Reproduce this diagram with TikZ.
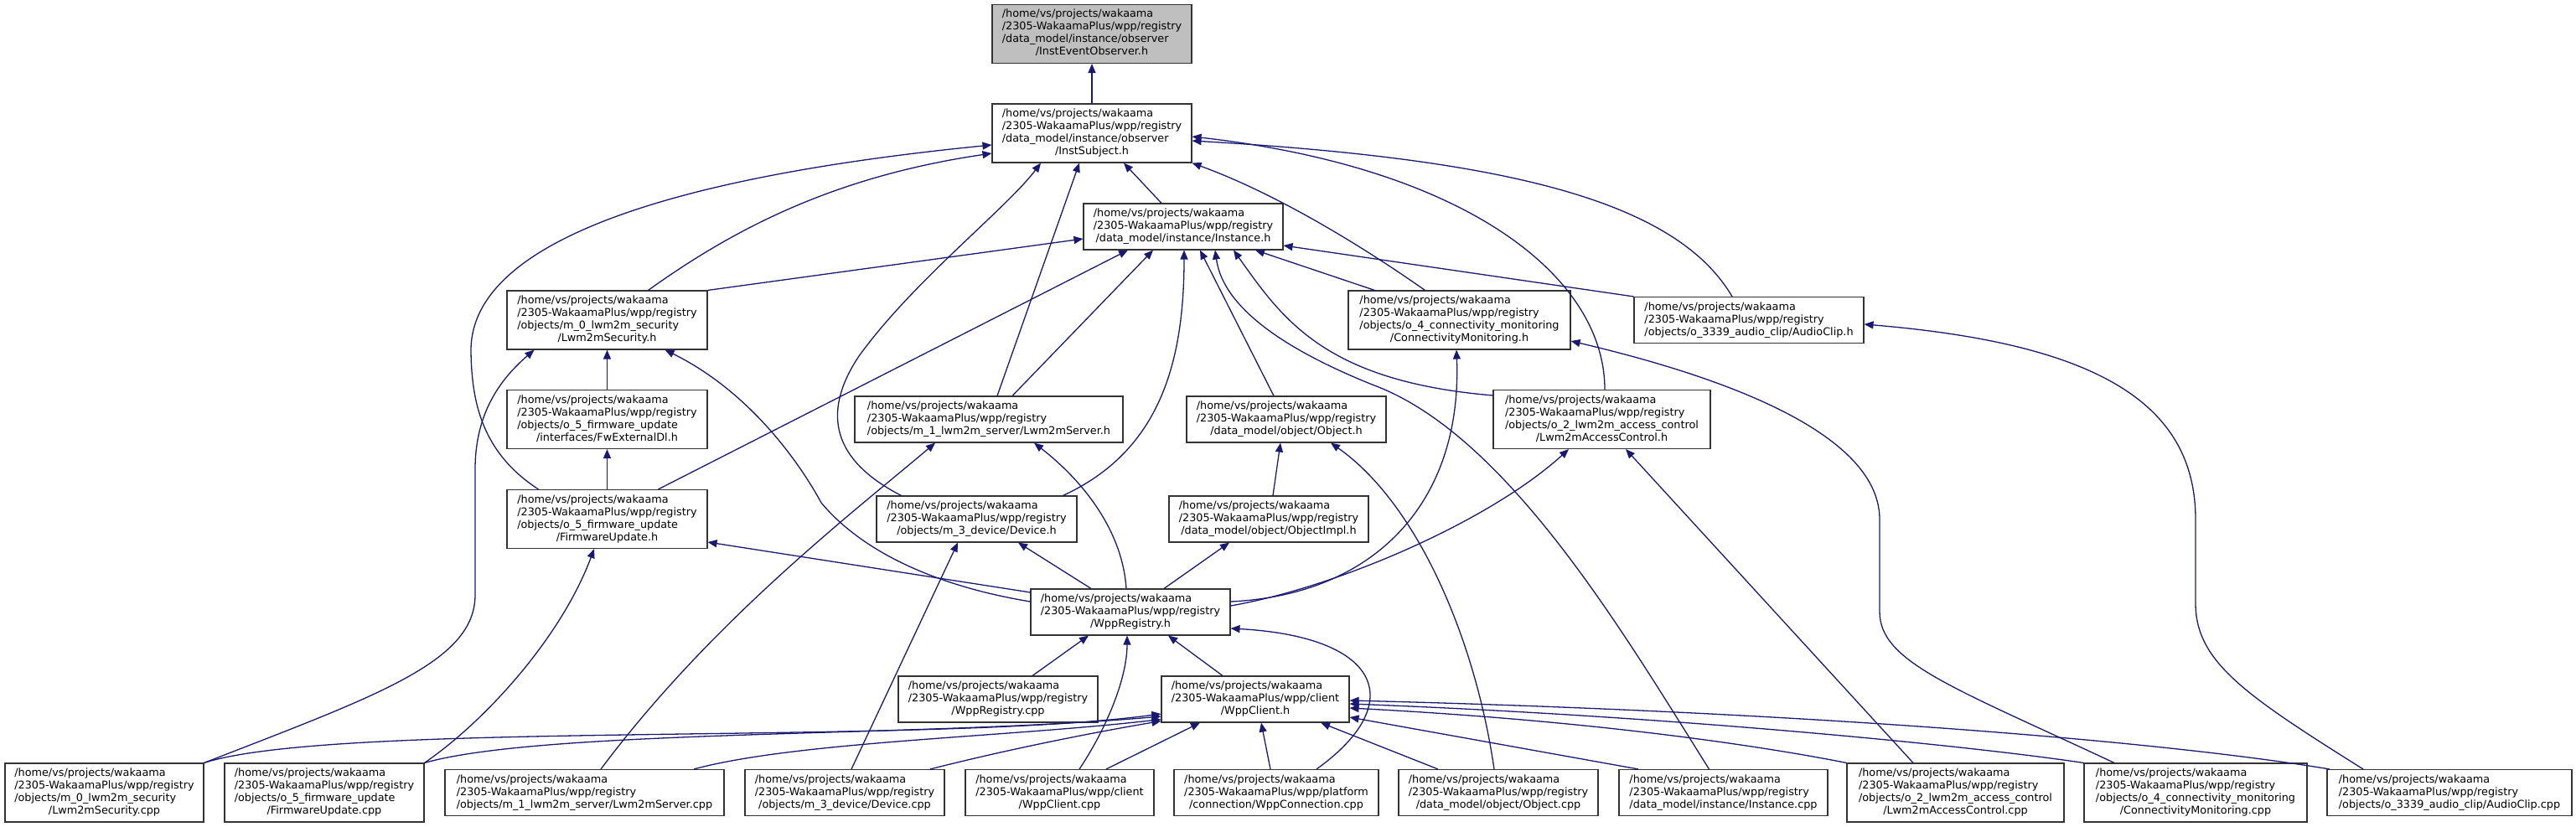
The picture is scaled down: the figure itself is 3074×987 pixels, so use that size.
\documentclass[tikz,border=0pt]{standalone}
\usepackage{fontspec}
\setmainfont{DejaVu Sans}
\usepackage{tikz}
\usetikzlibrary{arrows.meta}
\definecolor{edgeblue}{HTML}{191970}
\newcommand{\fpath}[2]{\begin{tabular}{@{}l@{}}#1\\\multicolumn{1}{@{}c@{}}{#2}\end{tabular}}

\begin{document}
\begin{tikzpicture}[x=1pt, y=-1pt,
  file/.style={draw=black!80, line width=1.1pt, fill=white, rectangle, inner xsep=6pt, inner ysep=5pt,
    minimum width=#1, font=\fontsize{12.8}{15}\selectfont},
  dep/.style={draw=edgeblue, line width=1.3pt, -{Triangle[length=11pt,width=9pt]}}]
\useasboundingbox (0,0) rectangle (3074,987);

% 層0
\node[file=238pt, fill=gray!50] (ieo) at (1303,40.5) {\fpath{/home/vs/projects/wakaama\\/2305-WakaamaPlus/wpp/registry\\/data\_model/instance/observer}{/InstEventObserver.h}};

% 層1
\node[file=238pt] (isub) at (1303,159) {\fpath{/home/vs/projects/wakaama\\/2305-WakaamaPlus/wpp/registry\\/data\_model/instance/observer}{/InstSubject.h}};

% 層2
\node[file=238pt] (inst) at (1412,270.5) {\fpath{/home/vs/projects/wakaama\\/2305-WakaamaPlus/wpp/registry}{/data\_model/instance/Instance.h}};

% 層3
\node[file=239pt] (sech) at (724.5,382) {\fpath{/home/vs/projects/wakaama\\/2305-WakaamaPlus/wpp/registry\\/objects/m\_0\_lwm2m\_security}{/Lwm2mSecurity.h}};
\node[file=265pt] (cmh) at (1741.5,382) {\fpath{/home/vs/projects/wakaama\\/2305-WakaamaPlus/wpp/registry\\/objects/o\_4\_connectivity\_monitoring}{/ConnectivityMonitoring.h}};
\node[file=274pt] (ach) at (2087,382) {\fpath{/home/vs/projects/wakaama\\/2305-WakaamaPlus/wpp/registry}{/objects/o\_3339\_audio\_clip/AudioClip.h}};

% 層4
\node[file=239pt] (fwdl) at (724.5,500.5) {\fpath{/home/vs/projects/wakaama\\/2305-WakaamaPlus/wpp/registry\\/objects/o\_5\_firmware\_update}{/interfaces/FwExternalDl.h}};
\node[file=320pt] (srvh) at (1180,500.5) {\fpath{/home/vs/projects/wakaama\\/2305-WakaamaPlus/wpp/registry}{/objects/m\_1\_lwm2m\_server/Lwm2mServer.h}};
\node[file=238pt] (objh) at (1535,500.5) {\fpath{/home/vs/projects/wakaama\\/2305-WakaamaPlus/wpp/registry}{/data\_model/object/Object.h}};
\node[file=259pt] (acch) at (1911.5,500.5) {\fpath{/home/vs/projects/wakaama\\/2305-WakaamaPlus/wpp/registry\\/objects/o\_2\_lwm2m\_access\_control}{/Lwm2mAccessControl.h}};

% 層5
\node[file=239pt] (fwh) at (724.5,619.5) {\fpath{/home/vs/projects/wakaama\\/2305-WakaamaPlus/wpp/registry\\/objects/o\_5\_firmware\_update}{/FirmwareUpdate.h}};
\node[file=239pt] (devh) at (1165.5,619.5) {\fpath{/home/vs/projects/wakaama\\/2305-WakaamaPlus/wpp/registry}{/objects/m\_3\_device/Device.h}};
\node[file=238pt] (oih) at (1514,619.5) {\fpath{/home/vs/projects/wakaama\\/2305-WakaamaPlus/wpp/registry}{/data\_model/object/ObjectImpl.h}};

% 層6
\node[file=238pt] (regh) at (1349,730.5) {\fpath{/home/vs/projects/wakaama\\/2305-WakaamaPlus/wpp/registry}{/WppRegistry.h}};

% 層7
\node[file=238pt] (regcpp) at (1191,834.5) {\fpath{/home/vs/projects/wakaama\\/2305-WakaamaPlus/wpp/registry}{/WppRegistry.cpp}};
\node[file=224pt] (clih) at (1498,834.5) {\fpath{/home/vs/projects/wakaama\\/2305-WakaamaPlus/wpp/client}{/WppClient.h}};

% 層8
\node[file=237pt] (seccpp) at (124.5,946) {\fpath{/home/vs/projects/wakaama\\/2305-WakaamaPlus/wpp/registry\\/objects/m\_0\_lwm2m\_security}{/Lwm2mSecurity.cpp}};
\node[file=238pt] (fwcpp) at (387,946) {\fpath{/home/vs/projects/wakaama\\/2305-WakaamaPlus/wpp/registry\\/objects/o\_5\_firmware\_update}{/FirmwareUpdate.cpp}};
\node[file=333pt] (srvcpp) at (697.5,946) {\fpath{/home/vs/projects/wakaama\\/2305-WakaamaPlus/wpp/registry}{/objects/m\_1\_lwm2m\_server/Lwm2mServer.cpp}};
\node[file=238pt] (devcpp) at (1008,946) {\fpath{/home/vs/projects/wakaama\\/2305-WakaamaPlus/wpp/registry}{/objects/m\_3\_device/Device.cpp}};
\node[file=225pt] (clicpp) at (1264.5,946) {\fpath{/home/vs/projects/wakaama\\/2305-WakaamaPlus/wpp/client}{/WppClient.cpp}};
\node[file=244pt] (conncpp) at (1523,946) {\fpath{/home/vs/projects/wakaama\\/2305-WakaamaPlus/wpp/platform}{/connection/WppConnection.cpp}};
\node[file=238pt] (objcpp) at (1788,946) {\fpath{/home/vs/projects/wakaama\\/2305-WakaamaPlus/wpp/registry}{/data\_model/object/Object.cpp}};
\node[file=249pt] (instcpp) at (2056.5,946) {\fpath{/home/vs/projects/wakaama\\/2305-WakaamaPlus/wpp/registry}{/data\_model/instance/Instance.cpp}};
\node[file=259pt] (accpp) at (2333.5,946) {\fpath{/home/vs/projects/wakaama\\/2305-WakaamaPlus/wpp/registry\\/objects/o\_2\_lwm2m\_access\_control}{/Lwm2mAccessControl.cpp}};
\node[file=266pt] (cmcpp) at (2620,946) {\fpath{/home/vs/projects/wakaama\\/2305-WakaamaPlus/wpp/registry\\/objects/o\_4\_connectivity\_monitoring}{/ConnectivityMonitoring.cpp}};
\node[file=292pt] (audcpp) at (2923,946) {\fpath{/home/vs/projects/wakaama\\/2305-WakaamaPlus/wpp/registry}{/objects/o\_3339\_audio\_clip/AudioClip.cpp}};

% InstEventObserver.h
\draw[dep] (isub.north) -- (ieo.south);

% InstSubject.h
\draw[dep] ([xshift=-26pt]inst.north) -- ([xshift=38pt]isub.south);
\draw[dep] ([xshift=49pt]sech.north) .. controls (880,270) and (1000,210) .. ([yshift=-24pt]isub.west);
\draw[dep] ([xshift=-82pt]fwh.north) .. controls (575,540) and (563,480) .. (562,420) .. controls (560,300) and (760,215) .. ([yshift=-14pt]isub.west);
\draw[dep] ([xshift=10pt]srvh.north) -- ([xshift=-15pt]isub.south);
\draw[dep] ([xshift=-90pt]devh.north) .. controls (985,545) and (985,485) .. (1025,425) .. controls (1090,335) and (1200,250) .. ([xshift=-61pt]isub.south);
\draw[dep] ([xshift=-41pt]cmh.north) .. controls (1620,290) and (1520,230) .. (isub.south east);
\draw[dep] ([xshift=3.5pt]acch.north) .. controls (1915,330) and (1750,200) .. ([yshift=-4pt]isub.east);
\draw[dep] ([xshift=-20pt]ach.north) .. controls (2000,240) and (1800,190) .. ([yshift=-9pt]isub.east);

% Instance.h
\draw[dep] (sech.north east) -- ([yshift=-14.5pt]inst.west);
\draw[dep] ([xshift=61pt]fwh.north) -- ([xshift=-66pt]inst.south);
\draw[dep] ([xshift=28pt]srvh.north) -- ([xshift=-36pt]inst.south);
\draw[dep] ([xshift=103pt]devh.north) .. controls (1380,540) and (1413,440) .. ([xshift=1pt]inst.south);
\draw[dep] ([xshift=-15pt]objh.north) -- ([xshift=20pt]inst.south);
\draw[dep] ([xshift=-101pt]cmh.north) -- ([xshift=86pt]inst.south);
\draw[dep] ([yshift=-7pt]acch.north west) .. controls (1580,455) and (1530,380) .. ([xshift=60pt]inst.south);
\draw[dep] (ach.north west) -- ([yshift=-22.5pt]inst.east);
\draw[dep] ([xshift=-17pt]instcpp.north) .. controls (1940,760) and (1800,520) .. (1640,460) .. controls (1540,420) and (1460,370) .. ([xshift=38pt]inst.south);

% Lwm2mSecurity.h
\draw[dep] (fwdl.north) -- (sech.south);
\draw[dep] (seccpp.north east) .. controls (450,830) and (567,790) .. (567,710) -- (567,560) .. controls (567,490) and (600,450) .. ([xshift=-87pt]sech.south);
\draw[dep] ([yshift=12.5pt]regh.west) .. controls (1120,700) and (1030,660) .. (980,600) .. controls (950,545) and (890,465) .. ([xshift=69pt]sech.south);

% FwExternalDl.h
\draw[dep] (fwh.north) -- (fwdl.south);

% FirmwareUpdate.h
\draw[dep] ([yshift=23.5pt]regh.west) -- ([yshift=-27.5pt]fwh.east);
\draw[dep] (fwcpp.north east) .. controls (580,860) and (670,760) .. ([xshift=-15.5pt]fwh.south);

% Lwm2mServer.h
\draw[dep] ([xshift=-5pt]regh.north) .. controls (1340,640) and (1300,580) .. ([xshift=54pt]srvh.south);
\draw[dep] ([xshift=19.5pt]srvcpp.north) .. controls (850,740) and (1020,610) .. ([xshift=-64pt]srvh.south);

% Device.h
\draw[dep] ([xshift=-47pt]regh.north) -- ([xshift=49.5pt]devh.south);
\draw[dep] ([xshift=8pt]devcpp.north) -- ([xshift=-22.5pt]devh.south);

% Object.h, ObjectImpl.h
\draw[dep] ([xshift=5pt]oih.north) -- ([xshift=-7pt]objh.south);
\draw[dep] ([xshift=-5pt]objcpp.north) .. controls (1760,760) and (1690,600) .. ([xshift=53pt]objh.south);
\draw[dep] ([xshift=40pt]regh.north) -- ([xshift=-47pt]oih.south);

% ConnectivityMonitoring.h
\draw[dep] ([yshift=12.5pt]regh.east) .. controls (1640,710) and (1745,600) .. ([xshift=-3.5pt]cmh.south);
\draw[dep] ([xshift=-97pt]cmcpp.north) .. controls (2330,820) and (2243,790) .. (2243,730) -- (2243,620) .. controls (2243,530) and (2100,460) .. ([yshift=-25pt]cmh.east);

% Lwm2mAccessControl.h
\draw[dep] ([yshift=7.5pt]regh.east) .. controls (1600,700) and (1780,620) .. ([xshift=-39.5pt]acch.south);
\draw[dep] ([xshift=-50.5pt]accpp.north) -- ([xshift=28.5pt]acch.south);

% AudioClip.h
\draw[dep] ([xshift=-103pt]audcpp.north) .. controls (2680,830) and (2620,790) .. (2620,720) -- (2620,620) .. controls (2620,480) and (2500,410) .. ([yshift=-5pt]ach.east);

% WppRegistry.h
\draw[dep] ([xshift=41pt]regcpp.north) -- ([xshift=-50pt]regh.south);
\draw[dep] ([xshift=-39pt]clih.north) -- ([xshift=45pt]regh.south);
\draw[dep] ([xshift=23.5pt]clicpp.north) .. controls (1320,870) and (1345,810) .. ([xshift=-4pt]regh.south);
\draw[dep] ([xshift=48pt]conncpp.north) .. controls (1680,840) and (1650,760) .. ([yshift=-19.5pt]regh.east);

% WppClient.h
\draw[dep] (seccpp.north east) .. controls (400,860) and (1100,890) .. ([yshift=-17.5pt]clih.west);
\draw[dep] (fwcpp.north east) .. controls (650,870) and (1100,880) .. ([yshift=-20.5pt]clih.west);
\draw[dep] ([xshift=130.5pt]srvcpp.north) .. controls (950,885) and (1200,880) .. ([yshift=-24pt]clih.west);
\draw[dep] ([xshift=102pt]devcpp.north) .. controls (1200,895) and (1300,875) .. ([yshift=-26pt]clih.west);
\draw[dep] ([xshift=55.5pt]clicpp.north) -- ([xshift=-66pt]clih.south);
\draw[dep] ([xshift=-7pt]conncpp.north) -- ([xshift=7pt]clih.south);
\draw[dep] ([xshift=-72pt]objcpp.north) -- ([xshift=78pt]clih.south);
\draw[dep] ([xshift=-101.5pt]instcpp.north) -- ([yshift=-21.5pt]clih.east);
\draw[dep] (accpp.north west) .. controls (2100,890) and (1900,860) .. ([yshift=-10.5pt]clih.east);
\draw[dep] (cmcpp.north west) .. controls (2350,890) and (2000,855) .. ([yshift=-5.5pt]clih.east);
\draw[dep] ([xshift=-143pt]audcpp.north) .. controls (2550,880) and (2100,848) .. ([yshift=-1.5pt]clih.east);
\end{tikzpicture}
\end{document}
